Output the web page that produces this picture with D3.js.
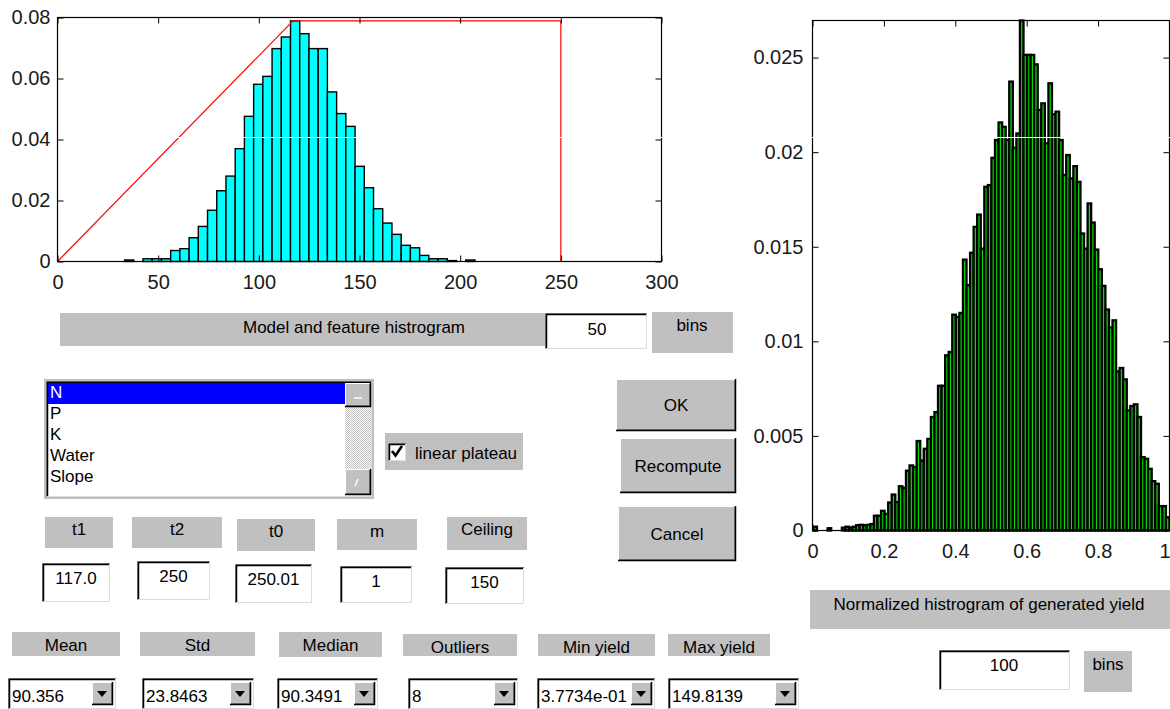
<!DOCTYPE html>
<html><head><meta charset="utf-8">
<script src="https://cdn.jsdelivr.net/npm/d3@7"></script>
<style>
html,body{margin:0;padding:0;background:#fff;}
svg{display:block;}
text{font-family:"Liberation Sans",Arial,Helvetica,sans-serif;}
</style></head><body>
<svg id="c" width="1170" height="709"></svg>
<script>
// ---------------- DATA ----------------
// Model and feature histogram (feature N), 50-bin histogram, only the occupied bins
const featureBinStart = 33.3;
const featureBinWidth = 4.58;
const featureHist = [0.0005,0,0.0009,0.0009,0.0009,0.0036,0.0042,0.0078,0.0115,0.0168,
  0.0232,0.028,0.037,0.0476,0.0581,0.0607,0.0698,0.0736,0.0789,0.0747,
  0.0698,0.0698,0.0556,0.0485,0.0443,0.0312,0.0242,0.0173,0.0126,0.0089,
  0.0053,0.0045,0.002,0.0009,0.0009,0.0003,0,0.0005];
// linear plateau model: t1 = 117, t2 = 250 (relative level 0..1)
const plateauX = [0, 117, 250, 250];
const plateauLevel = [0, 1, 1, 0];

// Normalized histogram of generated yield, 100 bins
const yieldMin = 0.0025, yieldMax = 1;
const yieldHist = [0.0002,0,0,0,0.00012,0,0,0,0.00015,0.0002,
  0.00015,0.0002,0.00028,0.0003,0.00028,0.0003,0.00034,0.00078,0.00078,0.00104,
  0.00088,0.00148,0.0019,0.0015,0.00234,0.00225,0.00316,0.00344,0.00335,0.00473,
  0.0037,0.00432,0.00484,0.006,0.00626,0.00765,0.00765,0.00926,0.00944,0.01141,
  0.01129,0.0115,0.01432,0.01297,0.01468,0.01605,0.0167,0.0149,0.01817,0.01826,
  0.0197,0.02064,0.02157,0.02134,0.02064,0.02373,0.02023,0.02099,0.02696,0.02514,
  0.02514,0.02514,0.02464,0.02223,0.02258,0.02046,0.02364,0.022,0.02214,0.02064,
  0.01879,0.01985,0.01861,0.01926,0.01843,0.0157,0.0149,0.01729,0.01628,0.01485,
  0.01381,0.01293,0.01168,0.01073,0.01111,0.00841,0.00859,0.00799,0.00635,0.00658,
  0.00667,0.006,0.00388,0.00379,0.00326,0.00261,0.00247,0.00129,0.00129,0.0007];

const leftXTicks = [0,50,100,150,200,250,300];
const leftXTickLabels = ["0","50","100","150","200","250","300"];
const leftYTicks = [0,0.02,0.04,0.06,0.08];
const leftYTickLabels = ["0","0.02","0.04","0.06","0.08"];
const rightXTicks = [0,0.2,0.4,0.6,0.8,1];
const rightXTickLabels = ["0","0.2","0.4","0.6","0.8","1"];
const rightYTicks = [0,0.005,0.01,0.015,0.02,0.025];
const rightYTickLabels = ["0","0.005","0.01","0.015","0.02","0.025"];

const featureList = ["N","P","K","Water","Slope"];
const paramNames = ["t1","t2","t0","m","Ceiling"];
const paramValues = ["117.0","250","250.01","1","150"];
const statNames = ["Mean","Std","Median","Outliers","Min yield","Max yield"];
const statValues = ["90.356","23.8463","90.3491","8","3.7734e-01","149.8139"];
const leftTitle = "Model and feature histrogram";
const leftBins = "50";
const rightTitle = "Normalized histrogram of generated yield";
const rightBins = "100";
const checkLabel = "linear plateau";
const buttonLabels = ["OK","Recompute","Cancel"];

// ---------------- LAYOUT ----------------
const svg = d3.select("#c");
const GREY = "#c0c0c0";
const TICKFONT = 20, GUIFONT = 17;

// ---------- left chart ----------
const xL = d3.scaleLinear().domain([0,300]).range([57.5,661.5]);
const yL = d3.scaleLinear().domain([0,0.08]).range([261.5,17.5]);
const gL = svg.append("g");
const bx = i => featureBinStart + i*featureBinWidth;
gL.selectAll("rect").data(featureHist).join("rect")
  .attr("x",(d,i)=>xL(bx(i)))
  .attr("width",(d,i)=>xL(bx(i+1))-xL(bx(i)))
  .attr("y",d=>yL(d)).attr("height",d=>yL(0)-yL(d))
  .attr("fill","#00ffff").attr("stroke","#000").attr("stroke-width",1.4);
const plateauMax = d3.max(featureHist);
gL.append("path")
  .datum(plateauX.map((x,i)=>[x, plateauLevel[i]*plateauMax]))
  .attr("d", d3.line().x(d=>xL(d[0])).y(d=>yL(d[1])))
  .attr("fill","none").attr("stroke","#ff0000").attr("stroke-width",1.2);

function styleAxis(g){
  g.select(".domain").remove();
  g.selectAll(".tick line").attr("stroke","#000");
  g.selectAll(".tick text").attr("font-size",TICKFONT).attr("font-family",'"Liberation Sans",Arial,sans-serif').attr("fill","#1a1a1a");
}
gL.append("g").attr("transform",`translate(0,${yL(0)})`)
  .call(d3.axisBottom(xL).tickValues(leftXTicks).tickFormat((d,i)=>leftXTickLabels[i]).tickSize(-6).tickSizeOuter(0).tickPadding(13))
  .call(styleAxis);
gL.append("g").attr("transform",`translate(0,${yL(0.08)})`)
  .call(d3.axisTop(xL).tickValues(leftXTicks).tickFormat(()=>"").tickSize(-6).tickSizeOuter(0))
  .call(styleAxis);
gL.append("g").attr("transform",`translate(${xL(0)},0)`)
  .call(d3.axisLeft(yL).tickValues(leftYTicks).tickFormat((d,i)=>leftYTickLabels[i]).tickSize(-6).tickSizeOuter(0).tickPadding(7))
  .call(styleAxis);
gL.append("g").attr("transform",`translate(${xL(300)},0)`)
  .call(d3.axisRight(yL).tickValues(leftYTicks).tickFormat(()=>"").tickSize(-6).tickSizeOuter(0))
  .call(styleAxis);
gL.append("rect").attr("x",xL(0)).attr("y",yL(0.08)).attr("width",xL(300)-xL(0)).attr("height",yL(0)-yL(0.08))
  .attr("fill","none").attr("stroke","#000").attr("stroke-width",1.2);

// ---------- right chart ----------
const yTop = d3.max(yieldHist);
const xR = d3.scaleLinear().domain([0,1]).range([812.5,1169.5]);
const yR = d3.scaleLinear().domain([0,yTop]).range([530.5,20.5]);
const gR = svg.append("g");
const ybw = (yieldMax - yieldMin)/yieldHist.length;
const ye = i => yieldMin + i*ybw;
gR.selectAll("rect").data(yieldHist).join("rect")
  .attr("x",(d,i)=>xR(ye(i)))
  .attr("width",(d,i)=>xR(ye(i+1))-xR(ye(i)))
  .attr("y",d=>yR(d)).attr("height",d=>yR(0)-yR(d))
  .attr("fill","#00e000").attr("stroke","#000").attr("stroke-width",2.3);
const bottomAxisR = gR.append("g").attr("transform",`translate(0,${yR(0)})`)
  .call(d3.axisBottom(xR).tickValues(rightXTicks).tickFormat((d,i)=>rightXTickLabels[i]).tickSize(-6).tickSizeOuter(0).tickPadding(13))
  .call(styleAxis);
// last label ("1") sits flush with the right edge of the window
bottomAxisR.selectAll(".tick text").filter((d,i)=>i===rightXTicks.length-1)
  .attr("text-anchor","end").attr("x",0.5);
gR.append("g").attr("transform",`translate(0,${yR(yTop)})`)
  .call(d3.axisTop(xR).tickValues(rightXTicks).tickFormat(()=>"").tickSize(-6).tickSizeOuter(0))
  .call(styleAxis);
gR.append("g").attr("transform",`translate(${xR(0)},0)`)
  .call(d3.axisLeft(yR).tickValues(rightYTicks).tickFormat((d,i)=>rightYTickLabels[i]).tickSize(-6).tickSizeOuter(0).tickPadding(9))
  .call(styleAxis);
gR.append("g").attr("transform",`translate(${xR(1)},0)`)
  .call(d3.axisRight(yR).tickValues(rightYTicks).tickFormat(()=>"").tickSize(-6).tickSizeOuter(0))
  .call(styleAxis);
gR.append("rect").attr("x",xR(0)).attr("y",yR(yTop)).attr("width",xR(1)-xR(0)).attr("height",yR(0)-yR(yTop))
  .attr("fill","none").attr("stroke","#000").attr("stroke-width",1.2);

// ---------- GUI widgets ----------
const gui = svg.append("g");
function panel(x,y,w,h){ gui.append("rect").attr("x",x).attr("y",y).attr("width",w).attr("height",h).attr("fill",GREY); }
function label(t,x,y,anchor="middle",fill="#000"){
  gui.append("text").attr("x",x).attr("y",y).attr("text-anchor",anchor).attr("font-size",GUIFONT).attr("fill",fill).text(t);
}
function sunken(x,y,w,h,fill="#fff"){
  gui.append("rect").attr("x",x).attr("y",y).attr("width",w).attr("height",h).attr("fill",fill);
  gui.append("path").attr("d",`M${x+0.5},${y+h} V${y+0.5} H${x+w}`).attr("stroke","#808080").attr("fill","none");
  gui.append("path").attr("d",`M${x+1.5},${y+h-1} V${y+1.5} H${x+w-1}`).attr("stroke","#000").attr("fill","none").attr("stroke-width",1.5);
  gui.append("path").attr("d",`M${x+1},${y+h-0.5} H${x+w-0.5} V${y+1}`).attr("stroke","#dcdcdc").attr("fill","none");
}
function raised(x,y,w,h){
  gui.append("rect").attr("x",x).attr("y",y).attr("width",w).attr("height",h).attr("fill",GREY);
  gui.append("path").attr("d",`M${x+0.5},${y+h-1} V${y+0.5} H${x+w-1}`).attr("stroke","#fff").attr("fill","none");
  gui.append("path").attr("d",`M${x+1},${y+h-1.5} H${x+w-1.5} V${y+1}`).attr("stroke","#808080").attr("fill","none");
  gui.append("path").attr("d",`M${x},${y+h-0.5} H${x+w-0.5} V${y}`).attr("stroke","#000").attr("fill","none").attr("stroke-width",1.5);
}

// top-left title row
panel(60,313,485,33); label(leftTitle,354,333);
sunken(545,313,102,36); label(leftBins,597,335);
panel(652,312,81,41); label("bins",692,331);

// listbox
gui.append("rect").attr("x",44).attr("y",379).attr("width",330).attr("height",120).attr("fill",GREY);
sunken(46,381,326,116);
gui.append("rect").attr("x",48).attr("y",383).attr("width",297).attr("height",21).attr("fill","#0000ff");
featureList.forEach((t,i)=>label(t,50,398+21*i,"start",i===0?"#ffffff":"#000000"));
// scrollbar
const pat = svg.append("defs").append("pattern").attr("id","chk").attr("width",2).attr("height",2).attr("patternUnits","userSpaceOnUse");
pat.append("rect").attr("width",2).attr("height",2).attr("fill","#fff");
pat.append("rect").attr("width",1).attr("height",1).attr("fill",GREY);
pat.append("rect").attr("x",1).attr("y",1).attr("width",1).attr("height",1).attr("fill",GREY);
gui.append("rect").attr("x",345).attr("y",383).attr("width",26).attr("height",112).attr("fill","url(#chk)");
raised(345,383,26,24);
gui.append("path").attr("d","M354,398 H362").attr("stroke","#fff").attr("stroke-width",1.5);
raised(345,469,26,26);
gui.append("path").attr("d","M358,479 L355,486").attr("stroke","#fff").attr("stroke-width",1.5);

// checkbox
panel(385,433,138,37);
sunken(388,443,18,18);
gui.append("path").attr("d","M392,451 L395.5,455.5 L402,446").attr("stroke","#000").attr("stroke-width",2.6).attr("fill","none");
label(checkLabel,415,459,"start");

// buttons
const buttonLayout = [[616,379,120,52],[620,438,116,55],[618,506,118,55]];
buttonLabels.forEach((t,i)=>{ const b=buttonLayout[i]; raised(b[0],b[1],b[2],b[3]); label(t,b[0]+b[2]/2,b[1]+b[3]/2+6); });

// parameters
const paramLabelLayout = [[45,517,68,31],[132,517,90,31],[237,519,78,32],[337,519,80,31],[447,517,80,33]];
const paramEditLayout = [[42,563,68,39],[137,561,73,39],[235,564,77,39],[340,566,72,37],[445,567,79,37]];
paramNames.forEach((t,i)=>{ const p=paramLabelLayout[i]; panel(p[0],p[1],p[2],p[3]); label(t,p[0]+p[2]/2,p[1]+18); });
paramValues.forEach((t,i)=>{ const p=paramEditLayout[i]; sunken(p[0],p[1],p[2],p[3]); label(t,p[0]+p[2]/2,p[1]+21); });

// statistics
const statLabelLayout = [[12,632,108,24],[140,632,115,24],[279,632,103,25],[403,634,114,22],[538,634,117,22],[668,634,102,22]];
const statBoxLayout = [[8,678,108,31],[142,678,112,31],[277,678,101,31],[408,678,110,31],[537,678,118,31],[668,678,131,31]];
statNames.forEach((t,i)=>{ const p=statLabelLayout[i]; panel(p[0],p[1],p[2],p[3]); label(t,p[0]+p[2]/2,p[1]+19); });
statValues.forEach((t,i)=>{
  const p=statBoxLayout[i];
  sunken(p[0],p[1],p[2],p[3]);
  label(t,p[0]+4,p[1]+24,"start");
  const ax=p[0]+p[2]-24, ay=p[1]+4;
  raised(ax,ay,21,23);
  gui.append("path").attr("d",`M${ax+5},${ay+9} H${ax+15} L${ax+10},${ay+15} Z`).attr("fill","#000");
});

// right bottom
panel(810,590,360,39); label(rightTitle,989,610);
sunken(939,650,131,40); label(rightBins,1004,671);
panel(1084,651,48,41); label("bins",1108,670);

// scan-line artifact present in the reference picture
svg.append("rect").attr("x",60).attr("y",137).attr("width",1110).attr("height",1).attr("fill","#fff");
</script>
</body></html>
